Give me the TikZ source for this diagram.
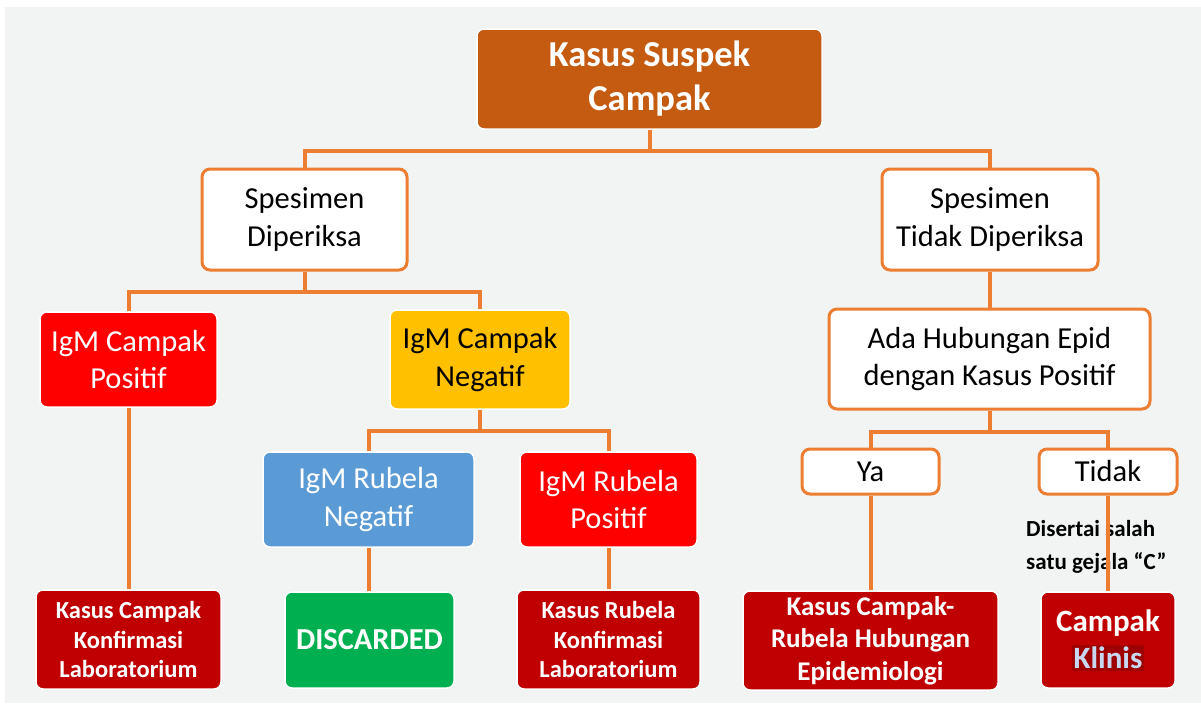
\documentclass[tikz,border=0pt]{standalone}
\usepackage{fontspec}
\setmainfont{Carlito}
\definecolor{bgc}{HTML}{F2F4F4}
\definecolor{topc}{HTML}{C55A11}
\definecolor{linec}{HTML}{ED7D31}
\definecolor{redc}{HTML}{FF0000}
\definecolor{darkred}{HTML}{C00000}
\definecolor{yelc}{HTML}{FFC000}
\definecolor{bluec}{HTML}{5B9BD5}
\definecolor{greenc}{HTML}{00B050}
\definecolor{klinbg}{HTML}{9E0000}
\definecolor{klintx}{HTML}{C8D8F0}
\tikzset{
  box/.style={rounded corners=7pt, align=center, inner sep=0pt, draw=white, line width=1.5pt},
  outl/.style={rounded corners=8pt, align=center, inner sep=0pt, draw=linec, line width=3pt, fill=white, text=black},
  conn/.style={draw=linec, line width=4pt},
  big/.style={font=\fontsize{30.5}{37.5}\selectfont},
  sm/.style={font=\bfseries\fontsize{24.5}{29.5}\selectfont},
}
\begin{document}
\begin{tikzpicture}[x=1pt,y=-1pt]
\useasboundingbox (0,0) rectangle (1201,707);
\fill[white] (0,0) rectangle (1201,707);
\fill[bgc] (5,7) rectangle (1201,703);

\node[box, fill=topc, text=white, minimum width=345pt, minimum height=100pt, font=\bfseries\fontsize{36.5}{44}\selectfont] (top) at (649.5,79) {Kasus Suspek\\Campak};

\node[outl, big, minimum width=205pt, minimum height=101pt] (sd) at (304.5,219.5) {Spesimen\\Diperiksa};
\node[outl, big, minimum width=216pt, minimum height=101pt] (std) at (990,219.5) {Spesimen\\Tidak Diperiksa};

\node[box, big, fill=redc, text=white, minimum width=177pt, minimum height=95pt] (igmpos) at (128.5,359.5) {IgM Campak\\Positif};
\node[box, big, fill=yelc, text=black, minimum width=180pt, minimum height=99pt] (igmneg) at (480,359.5) {IgM Campak\\Negatif};

\node[box, big, fill=bluec, text=white, minimum width=211pt, minimum height=95pt] (rubneg) at (368.5,499.5) {IgM Rubela\\Negatif};
\node[box, big, fill=redc, text=white, minimum width=177pt, minimum height=95pt] (rubpos) at (608.5,499.5) {IgM Rubela\\Positif};

\node[box, sm, fill=darkred, text=white, minimum width=185pt, minimum height=99pt] (kck) at (128.5,639.5) {Kasus Campak\\Konfirmasi\\Laboratorium};
\node[box, fill=greenc, text=white, minimum width=169pt, minimum height=96pt, font=\bfseries\fontsize{30.5}{36}\selectfont] (disc) at (369.5,640) {DISCARDED};
\node[box, sm, fill=darkred, text=white, minimum width=183pt, minimum height=99pt] (krk) at (608.5,639.5) {Kasus Rubela\\Konfirmasi\\Laboratorium};

\node[outl, big, minimum width=321pt, minimum height=100pt] (ada) at (989.5,359) {Ada Hubungan Epid\\dengan Kasus Positif};
\node[outl, big, minimum width=137pt, minimum height=45pt] (ya) at (870.5,471.5) {Ya};
\node[outl, big, minimum width=138pt, minimum height=45pt] (tidak) at (1108,471.5) {Tidak};

\node[box, fill=darkred, text=white, minimum width=255pt, minimum height=99pt, font=\bfseries\fontsize{27}{32.5}\selectfont] (kcr) at (870.5,640.5) {Kasus Campak-\\Rubela Hubungan\\Epidemiologi};
\node[box, fill=darkred, text=white, minimum width=134pt, minimum height=96pt, font=\bfseries\fontsize{31}{37}\selectfont] (klinis) at (1108,640) {Campak\\{\setlength\fboxsep{2pt}\colorbox{klinbg}{\textcolor{klintx}{Klinis}}}};

\node[anchor=west, align=left, font=\bfseries\fontsize{23}{33}\selectfont, inner sep=0pt] (ket) at (1026,547) {Disertai salah\\satu gejala “C”};

% connectors
\draw[conn] (top.south) -- ++(0,21) -| (sd.north);
\draw[conn] (top.south) -- ++(0,21) -| (std.north);
\draw[conn] (sd.south) -- ++(0,20) -| (igmpos.north);
\draw[conn] (sd.south) -- ++(0,20) -| (igmneg.north);
\draw[conn] (igmneg.south) -- ++(0,21) -| (rubneg.north);
\draw[conn] (igmneg.south) -- ++(0,21) -| (rubpos.north);
\draw[conn] (igmpos.south) -- (igmpos.south |- kck.north);
\draw[conn] (rubneg.south) -- (rubneg.south |- disc.north);
\draw[conn] (rubpos.south) -- (rubpos.south |- krk.north);
\draw[conn] (std.south) -- (std.south |- ada.north);
\draw[conn] (ada.south) -- ++(0,21) -| (ya.north);
\draw[conn] (ada.south) -- ++(0,21) -| (tidak.north);
\draw[conn] (ya.south) -- (ya.south |- kcr.north);
\draw[conn] (tidak.south) -- (tidak.south |- klinis.north);
\end{tikzpicture}
\end{document}
